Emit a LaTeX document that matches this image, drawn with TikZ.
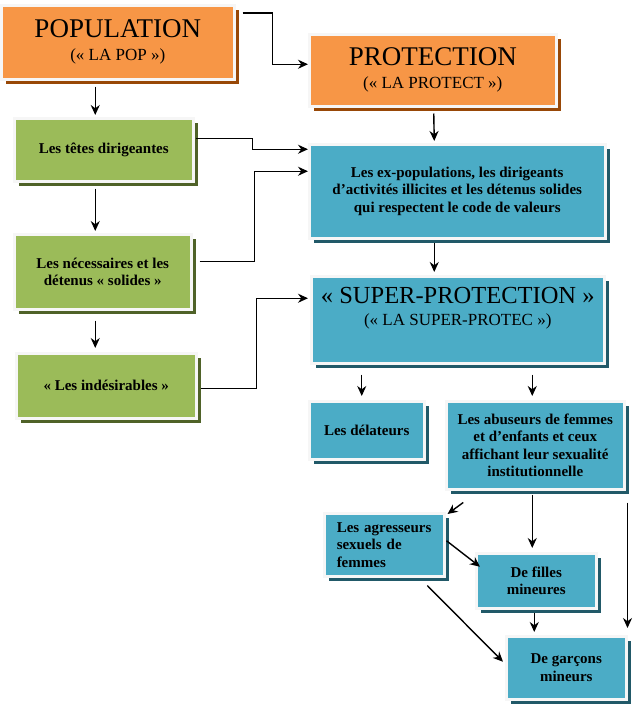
\documentclass[tikz,border=0pt]{standalone}
\usepackage{fontspec}
\setmainfont{Liberation Serif}
\usepackage{tikz}
\usetikzlibrary{calc,shadows,arrows.meta}

\definecolor{popfill}{HTML}{F79646}
\definecolor{popshadow}{HTML}{984807}
\definecolor{grpfill}{HTML}{9BBB59}
\definecolor{grpshadow}{HTML}{4F6228}
\definecolor{protfill}{HTML}{4BACC6}
\definecolor{protshadow}{HTML}{215968}

\tikzset{
  box/.style = {draw=white!93!gray, line width=2.5pt, inner sep=0pt,
    anchor=north west, align=center,
    font=\fontsize{15}{17.5}\selectfont\bfseries},
  orangebox/.style = {box, fill=popfill,
    font=\fontsize{17}{23}\selectfont,
    drop shadow={shadow xshift=5pt, shadow yshift=-5pt, fill=popshadow, opacity=1}},
  greenbox/.style = {box, fill=grpfill,
    drop shadow={shadow xshift=5pt, shadow yshift=-5pt, fill=grpshadow, opacity=1}},
  bluebox/.style = {box, fill=protfill,
    drop shadow={shadow xshift=5pt, shadow yshift=-5pt, fill=protshadow, opacity=1}},
  arr/.style = {line width=1.4pt, -{Stealth[length=10pt,width=9pt]}}
}

\begin{document}
\begin{tikzpicture}[x=1pt, y=-1pt]
  \useasboundingbox (0,0) rectangle (634,720);

  % left column
  \node[orangebox, minimum width=233pt, minimum height=74pt] (pop) at (0,4)
    {{\fontsize{27}{28}\selectfont POPULATION}\\(« LA POP »)};
  \node[greenbox, minimum width=179pt, minimum height=63pt] (tetes) at (13,117)
    {Les têtes dirigeantes};
  \node[greenbox, minimum width=177pt, minimum height=75pt] (neces) at (13,233)
    {Les nécessaires et les\\détenus « solides »};
  \node[greenbox, minimum width=180pt, minimum height=65pt] (indes) at (15,352)
    {« Les indésirables »};

  % right column
  \node[orangebox, minimum width=247pt, minimum height=72pt] (protect) at (308,33)
    {{\fontsize{27}{28}\selectfont PROTECTION}\\(« LA PROTECT »)};
  \node[bluebox, minimum width=296pt, minimum height=94pt] (expop) at (308,143)
    {Les ex-populations, les dirigeants\\d’activités illicites et les détenus solides\\qui respectent le code de valeurs};
  \node[bluebox, minimum width=293pt, minimum height=87pt, text depth=26pt,
    font=\fontsize{17}{22}\selectfont] (super) at (310,275)
    {{\fontsize{24.5}{26}\selectfont « SUPER-PROTECTION »}\\(« LA SUPER-PROTEC »)};
  \node[bluebox, minimum width=115pt, minimum height=58pt] (delat) at (308,400)
    {Les délateurs};
  \node[bluebox, minimum width=178pt, minimum height=88pt] (abus) at (445,400)
    {Les abuseurs de femmes\\et d’enfants et ceux\\affichant leur sexualité\\institutionnelle};
  \node[bluebox, text width=95pt, inner xsep=12.5pt, minimum height=63pt, align=left] (agres) at (323,512)
    {Les agresseurs\\sexuels de\\femmes};
  \node[bluebox, minimum width=120pt, minimum height=55pt] (filles) at (475,552)
    {De filles\\mineures};
  \node[bluebox, minimum width=120pt, minimum height=63pt] (garcons) at (505,635)
    {De garçons\\mineurs};

  % connectors
  \draw[arr] ($(pop.north east)+(7,9)$) -- ++(30,0) |- ($(protect.west)+(0,-6)$);
  \draw[arr] ($(pop.south)+(-22.5,6)$) -- ($(tetes.north)+(-8.5,-2)$);
  \draw[arr] ($(tetes.south)+(-8.5,6)$) -- ($(neces.north)+(-7.5,-2)$);
  \draw[arr] ($(neces.south)+(-7.5,10)$) -- ($(indes.north)+(-11,-4)$);
  \draw[arr] ($(protect.south)+(1,6)$) -- ($(expop.north)+(-23,-2)$);
  \draw[arr] ($(expop.south)+(-23,3)$) -- ($(super.north)+(-23.5,-3)$);
  \draw[arr] ($(tetes.east)+(1,-11)$) -- ++(57,0) |- ($(expop.west)+(0,-42)$);
  \draw[arr] ($(neces.east)+(7,-10.5)$) -- ++(55,0) |- ($(expop.west)+(0,-20)$);
  \draw[arr] ($(indes.east)+(3,2.5)$) -- ++(56,0) |- ($(super.west)+(-2,-21.5)$);
  \draw[arr] ($(super.south)+(-96,10)$) -- ($(delat.north)+(-5,-4)$);
  \draw[arr] ($(super.south)+(74.5,10)$) -- ($(abus.north)+(-3,-4)$);
  \draw[arr] ($(abus.south)+(-72,12)$) -- ($(agres.north east)+(2,2)$);
  \draw[arr] ($(abus.south)+(-3,4)$) -- ($(filles.north)+(-4,-4)$);
  \draw[arr] ($(abus.south east)+(2,12)$) -- ($(garcons.north east)+(0,-7)$);
  \draw[arr] ($(agres.east)+(1,-4)$) -- ($(filles.west)+(5,-14)$);
  \draw[arr] ($(agres.south)+(43,8)$) -- ($(garcons.west)+(-2,-6)$);
  \draw[arr] ($(filles.south)+(-2,3)$) -- ($(garcons.north)+(-32,-3)$);
\end{tikzpicture}
\end{document}
